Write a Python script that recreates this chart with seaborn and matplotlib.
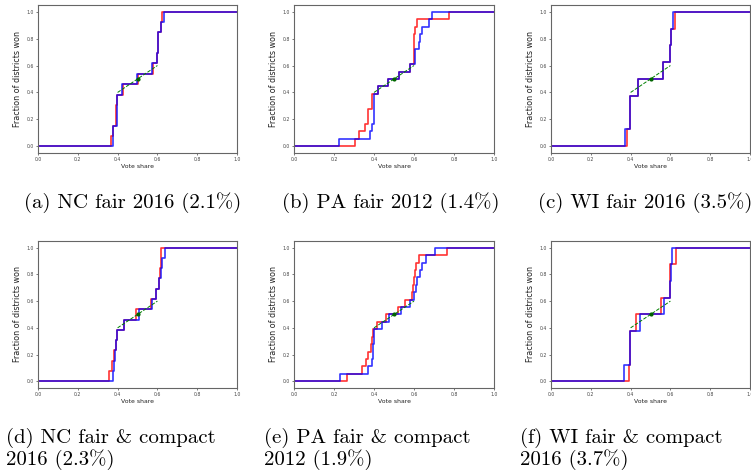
import numpy as np
import pandas as pd
import seaborn as sns
import matplotlib.pyplot as plt

# sorted district vote shares per plan (red = one ensemble, blue = the other)
nc_fair_red = [0.365, 0.376, 0.392, 0.394, 0.396, 0.425, 0.500, 0.580, 0.600, 0.601, 0.602, 0.618, 0.625]
nc_fair_blue = [0.376, 0.378, 0.396, 0.397, 0.398, 0.422, 0.499, 0.573, 0.600, 0.601, 0.603, 0.620, 0.632]
pa_fair_red = [0.303, 0.323, 0.357, 0.370, 0.371, 0.391, 0.392, 0.420, 0.472, 0.523, 0.582,
               0.598, 0.599, 0.600, 0.601, 0.607, 0.617, 0.773]
pa_fair_blue = [0.225, 0.382, 0.390, 0.398, 0.399, 0.400, 0.401, 0.418, 0.472, 0.527, 0.582,
                0.606, 0.607, 0.627, 0.628, 0.640, 0.673, 0.692]
wi_fair_red = [0.383, 0.398, 0.399, 0.436, 0.562, 0.600, 0.601, 0.625]
wi_fair_blue = [0.373, 0.398, 0.399, 0.436, 0.562, 0.600, 0.601, 0.615]
nc_comp_red = [0.357, 0.374, 0.382, 0.390, 0.399, 0.430, 0.490, 0.570, 0.595, 0.606, 0.611, 0.617, 0.620]
nc_comp_blue = [0.379, 0.381, 0.389, 0.394, 0.399, 0.430, 0.506, 0.573, 0.595, 0.610, 0.616, 0.621, 0.640]
pa_comp_red = [0.267, 0.340, 0.360, 0.370, 0.383, 0.392, 0.397, 0.417, 0.460, 0.520, 0.553,
               0.592, 0.595, 0.600, 0.605, 0.610, 0.625, 0.767]
pa_comp_blue = [0.232, 0.370, 0.388, 0.393, 0.395, 0.398, 0.400, 0.442, 0.475, 0.537, 0.578,
                0.600, 0.608, 0.617, 0.630, 0.638, 0.658, 0.707]
wi_comp_red = [0.392, 0.395, 0.397, 0.426, 0.553, 0.598, 0.600, 0.630]
wi_comp_blue = [0.366, 0.396, 0.397, 0.447, 0.569, 0.600, 0.601, 0.607]

# reference line through the middle
ref_x = [0.4, 0.6]
ref_y = [0.4, 0.6]
mid_point = (0.5, 0.5)

captions = [
    "(a) NC fair 2016 (2.1%)",
    "(b) PA fair 2012 (1.4%)",
    "(c) WI fair 2016 (3.5%)",
    "(d) NC fair & compact\n2016 (2.3%)",
    "(e) PA fair & compact\n2012 (1.9%)",
    "(f) WI fair & compact\n2016 (3.7%)",
]
panels = [
    (nc_fair_red, nc_fair_blue), (pa_fair_red, pa_fair_blue), (wi_fair_red, wi_fair_blue),
    (nc_comp_red, nc_comp_blue), (pa_comp_red, pa_comp_blue), (wi_comp_red, wi_comp_blue),
]

ticks = [0.0, 0.2, 0.4, 0.6, 0.8, 1.0]


def step_frame(shares):
    n = len(shares)
    x = [0.0] + list(shares) + [1.0]
    y = [0.0] + [(i + 1) / n for i in range(n)] + [1.0]
    return pd.DataFrame({"share": x, "frac": y})


sns.set_style("white")
fig = plt.figure(figsize=(7.51, 4.70), dpi=100)

lefts = [0.0506, 0.3915, 0.7337]
widths = [0.265, 0.2663, 0.265]
bottoms = [0.6745, 0.1745]
heights = [0.3149, 0.3128]
cap_x = [24, 282, 538, 6, 264, 520]
cap_y = [208, 208, 208, 465, 465, 465]

for i, (red, blue) in enumerate(panels):
    r, c = divmod(i, 3)
    ax = fig.add_axes([lefts[c], bottoms[r], widths[c], heights[r]])
    sns.lineplot(data=step_frame(red), x="share", y="frac", ax=ax, color="red",
                 alpha=0.8, lw=1.2, drawstyle="steps-post", estimator=None, sort=False)
    sns.lineplot(data=step_frame(blue), x="share", y="frac", ax=ax, color="blue",
                 alpha=0.8, lw=1.2, drawstyle="steps-post", estimator=None, sort=False)
    ax.plot(ref_x, ref_y, color="green", ls="--", lw=0.7)
    ax.plot(*mid_point, "o", color="darkgreen", ms=2)
    ax.set_xlim(0, 1)
    ax.set_ylim(-0.05, 1.05)
    ax.set_xticks(ticks)
    ax.set_yticks(ticks)
    ax.set_xticklabels([f"{t:.1f}" for t in ticks])
    ax.set_yticklabels([f"{t:.1f}" for t in ticks])
    ax.tick_params(labelsize=3.3, length=1.5, width=0.5, pad=1.5,
                   colors="#444444", left=True, bottom=True)
    for s in ax.spines.values():
        s.set_color("#666666")
        s.set_linewidth(0.8)
    ax.set_xlabel("Vote share", fontsize=4.4, labelpad=1, color="#222222")
    ax.set_ylabel("Fraction of districts won", fontsize=5.8, labelpad=3, color="#222222")

    fig.text(cap_x[i] / 751, 1 - cap_y[i] / 470, captions[i], family="cmr10",
             fontsize=15, va="baseline", ha="left", linespacing=1.05, color="black")

fig.savefig("out.png", dpi=100)
